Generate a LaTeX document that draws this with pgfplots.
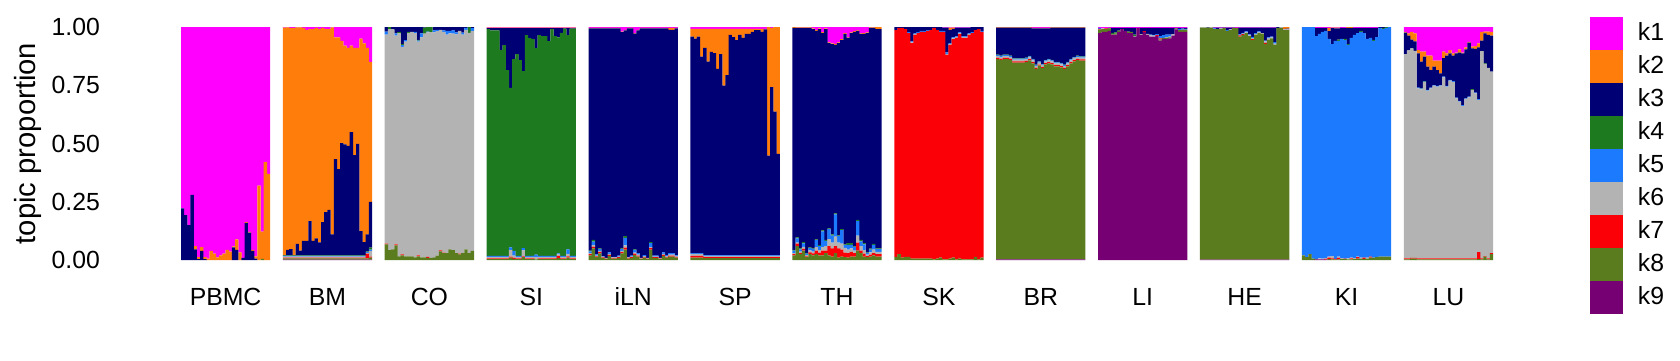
\documentclass[border=0pt]{standalone}
\usepackage{fontspec}
\setmainfont{Liberation Sans}
\usepackage{pgfplots}
\usepackage{pgfplotstable}
\pgfplotsset{compat=1.18}
\definecolor{c1}{RGB}{255,0,255}
\definecolor{c2}{RGB}{255,125,10}
\definecolor{c3}{RGB}{0,0,117}
\definecolor{c4}{RGB}{30,122,30}
\definecolor{c5}{RGB}{28,122,255}
\definecolor{c6}{RGB}{179,179,179}
\definecolor{c7}{RGB}{252,0,8}
\definecolor{c8}{RGB}{91,124,30}
\definecolor{c9}{RGB}{118,0,115}
\pgfplotsset{sq/.style={fill=#1, draw=none,
  legend image code/.code={\fill[#1] (0pt,-8.25pt) rectangle (16.5pt,8.25pt); \path (24pt,0pt);}}}

\pgfplotstableread{
x k1 k2 k3 k4 k5 k6 k7 k8 k9
0 0.778 0 0.222 0 0 0 0 0 0
1 0.807 0 0.193 0 0 0 0 0 0
2 0.850 0 0.150 0 0 0 0 0 0
3 0.721 0 0.279 0 0 0 0 0 0
4 0.940 0.014 0.046 0 0 0 0 0 0
5 0.988 0.008 0.004 0 0 0 0 0 0
6 0.945 0.016 0.039 0 0 0 0 0 0
7 0.988 0.008 0.004 0 0 0 0 0 0
8 0.994 0.006 0 0 0 0 0 0 0
9 0.961 0.039 0 0 0 0 0 0 0
10 0.973 0.027 0 0 0 0 0 0 0
11 0.989 0.011 0 0 0 0 0 0 0
12 0.980 0.020 0 0 0 0 0 0 0
13 0.973 0.027 0 0 0 0 0 0 0
14 0.957 0.043 0 0 0 0 0 0 0
15 0.964 0.036 0 0 0 0 0 0 0
16 0.942 0.004 0.054 0 0 0 0 0 0
17 0.911 0.045 0.044 0 0 0 0 0 0
18 0.967 0.033 0 0 0 0 0 0 0
19 0.991 0 0.009 0 0 0 0 0 0
20 0.837 0.004 0.159 0 0 0 0 0 0
21 0.879 0.004 0.117 0 0 0 0 0 0
22 0.957 0.004 0.039 0 0 0 0 0 0
23 0.984 0.010 0.006 0 0 0 0 0 0
24 0.681 0.319 0 0 0 0 0 0 0
25 0.878 0.117 0 0 0 0 0 0.005 0
26 0.580 0.420 0 0 0 0 0 0 0
27 0.630 0.370 0 0 0 0 0 0 0
32 0.003 0.976 0.001 0.002 0.004 0.004 0.003 0.005 0.002
33 0.002 0.955 0.023 0.002 0.004 0.004 0.003 0.005 0.002
34 0.004 0.949 0.027 0.002 0.004 0.004 0.003 0.005 0.002
35 0.004 0.975 0.001 0.002 0.004 0.004 0.003 0.005 0.002
36 0.002 0.929 0.049 0.002 0.004 0.004 0.003 0.005 0.002
37 0.002 0.958 0.020 0.002 0.004 0.004 0.003 0.005 0.002
38 0.004 0.914 0.062 0.002 0.004 0.004 0.003 0.005 0.002
39 0.013 0.905 0.062 0.002 0.004 0.004 0.003 0.005 0.002
40 0.009 0.824 0.147 0.002 0.004 0.004 0.003 0.005 0.002
41 0.009 0.909 0.062 0.002 0.004 0.004 0.003 0.005 0.002
42 0.004 0.903 0.073 0.002 0.004 0.004 0.003 0.005 0.002
43 0.009 0.915 0.056 0.002 0.004 0.004 0.003 0.005 0.002
44 0.004 0.833 0.143 0.002 0.004 0.004 0.003 0.005 0.002
45 0.009 0.785 0.186 0.002 0.004 0.004 0.003 0.005 0.002
46 0.009 0.776 0.195 0.002 0.004 0.004 0.003 0.005 0.002
47 0.002 0.888 0.090 0.002 0.004 0.004 0.003 0.005 0.002
48 0.045 0.522 0.413 0.002 0.004 0.004 0.003 0.005 0.002
49 0.045 0.565 0.370 0.002 0.004 0.004 0.003 0.005 0.002
50 0.060 0.438 0.482 0.002 0.004 0.004 0.003 0.005 0.002
51 0.080 0.424 0.476 0.002 0.004 0.004 0.003 0.005 0.002
52 0.090 0.420 0.470 0.002 0.004 0.004 0.003 0.005 0.002
53 0.080 0.371 0.529 0.002 0.004 0.004 0.003 0.005 0.002
54 0.090 0.460 0.430 0.002 0.004 0.004 0.003 0.005 0.002
55 0.090 0.412 0.478 0.002 0.004 0.004 0.003 0.005 0.002
56 0.050 0.826 0.104 0.002 0.004 0.004 0.003 0.005 0.002
57 0.070 0.853 0.057 0.002 0.004 0.004 0.003 0.005 0.002
58 0.090 0.800 0.073 0.002 0.004 0.004 0.020 0.005 0.002
59 0.150 0.601 0.196 0.008 0.006 0.025 0.004 0.008 0.002
64 0 0 0.020 0 0.013 0.897 0.003 0.067 0
65 0 0 0 0.010 0 0.948 0 0.042 0
66 0 0 0.010 0 0 0.944 0 0.046 0
67 0 0 0.027 0 0.010 0.896 0.004 0.063 0
68 0 0 0.022 0.005 0 0.957 0 0.016 0
69 0 0 0.074 0.004 0.007 0.891 0.004 0.020 0
70 0 0 0.056 0 0.007 0.921 0 0.016 0
71 0 0 0.021 0.004 0 0.959 0 0.016 0
72 0 0 0.021 0 0 0.963 0 0.016 0
73 0 0 0.021 0 0.005 0.963 0 0.011 0
74 0 0 0.055 0.004 0.004 0.917 0.004 0.016 0
75 0 0 0.027 0 0.017 0.945 0 0.011 0
76 0 0 0.003 0.025 0 0.961 0 0.011 0
77 0 0 0 0.020 0.003 0.964 0.004 0.009 0
78 0 0 0 0.022 0 0.969 0 0.009 0
79 0 0 0.015 0 0.008 0.966 0 0.011 0
80 0 0 0.012 0 0.006 0.963 0 0.019 0
81 0 0 0.012 0 0 0.947 0.004 0.037 0
82 0 0 0.015 0 0.006 0.947 0.003 0.029 0
83 0 0 0.017 0 0.016 0.938 0 0.029 0
84 0 0 0.017 0 0.010 0.927 0 0.046 0
85 0 0 0.015 0 0.013 0.930 0 0.042 0
86 0 0 0.023 0 0.009 0.939 0 0.029 0
87 0 0 0.017 0 0 0.956 0.003 0.024 0
88 0 0 0.024 0 0.009 0.938 0 0.029 0
89 0 0 0.004 0 0.008 0.942 0 0.046 0
90 0 0 0 0.025 0 0.946 0 0.029 0
91 0 0 0.005 0 0.012 0.944 0 0.039 0
96 0.003 0.002 0.004 0.973 0.005 0.006 0.003 0.004 0
97 0.003 0.002 0.009 0.968 0.005 0.006 0.003 0.004 0
98 0.003 0.002 0.009 0.968 0.005 0.006 0.003 0.004 0
99 0.003 0.002 0.009 0.968 0.005 0.006 0.003 0.004 0
100 0.003 0.002 0.094 0.883 0.005 0.006 0.003 0.004 0
101 0.003 0.002 0.073 0.904 0.005 0.006 0.003 0.004 0
102 0.003 0.002 0.180 0.797 0.005 0.006 0.003 0.004 0
103 0.003 0.002 0.256 0.685 0.010 0.030 0.004 0.010 0
104 0.003 0.002 0.133 0.823 0.020 0.010 0.004 0.005 0
105 0.003 0.002 0.111 0.866 0.005 0.006 0.003 0.004 0
106 0.003 0.002 0.137 0.840 0.005 0.006 0.003 0.004 0
107 0.003 0.002 0.184 0.760 0.010 0.025 0.004 0.012 0
108 0.003 0.002 0.030 0.947 0.005 0.006 0.003 0.004 0
109 0.003 0.002 0.043 0.934 0.005 0.006 0.003 0.004 0
110 0.003 0.002 0.047 0.930 0.005 0.006 0.003 0.004 0
111 0.003 0.002 0.086 0.886 0.010 0.010 0 0.003 0
112 0.003 0.002 0.030 0.947 0.005 0.006 0.003 0.004 0
113 0.003 0.002 0.034 0.943 0.005 0.006 0.003 0.004 0
114 0.003 0.002 0.034 0.943 0.005 0.006 0.003 0.004 0
115 0.003 0.002 0.056 0.921 0.005 0.006 0.003 0.004 0
116 0.003 0.002 0.004 0.973 0.005 0.006 0.003 0.004 0
117 0.003 0.002 0.034 0.943 0.005 0.006 0.003 0.004 0
118 0.003 0.002 0.039 0.928 0.004 0.006 0.010 0.008 0
119 0.003 0.002 0.020 0.957 0.005 0.006 0.003 0.004 0
120 0.003 0.002 0.002 0.975 0.005 0.006 0.003 0.004 0
121 0.003 0.002 0.030 0.919 0.020 0.010 0.006 0.010 0
122 0.003 0.002 0.002 0.975 0.005 0.006 0.003 0.004 0
123 0.003 0.002 0.002 0.975 0.005 0.006 0.003 0.004 0
128 0.004 0.002 0.954 0.003 0.008 0.004 0.005 0.020 0
129 0.004 0.002 0.908 0.007 0.015 0.008 0.006 0.050 0
130 0.004 0.002 0.970 0 0.005 0.003 0.004 0.012 0
131 0.004 0.002 0.944 0.003 0.008 0.005 0.006 0.028 0
132 0.004 0.002 0.977 0 0.003 0.003 0.003 0.008 0
133 0.004 0.002 0.985 0 0 0.003 0.002 0.004 0
134 0.004 0.002 0.961 0 0.007 0.004 0.004 0.018 0
135 0.004 0.002 0.981 0 0.002 0.002 0.003 0.006 0
136 0.004 0.002 0.981 0 0.002 0.002 0.003 0.006 0
137 0.004 0.002 0.975 0 0.004 0.003 0.003 0.009 0
138 0.020 0.002 0.928 0.003 0.008 0.005 0.006 0.028 0
139 0.012 0.002 0.883 0.008 0.032 0.010 0.008 0.045 0
140 0.004 0.002 0.981 0 0.002 0.002 0.003 0.006 0
141 0.004 0.002 0.975 0 0.004 0.003 0.003 0.009 0
142 0.026 0.002 0.926 0.003 0.011 0.005 0.005 0.022 0
143 0.012 0.002 0.957 0 0.006 0.004 0.004 0.015 0
144 0.004 0.002 0.985 0 0 0.003 0.002 0.004 0
145 0.004 0.002 0.973 0 0.005 0.003 0.003 0.010 0
146 0.004 0.002 0.985 0 0 0.003 0.002 0.004 0
147 0.004 0.002 0.917 0.005 0.017 0.004 0.006 0.045 0
148 0.004 0.002 0.975 0 0.004 0.003 0.003 0.009 0
149 0.004 0.002 0.975 0 0.004 0.003 0.003 0.009 0
150 0.004 0.002 0.985 0 0 0.003 0.002 0.004 0
151 0.004 0.002 0.961 0 0.007 0.004 0.004 0.018 0
152 0.004 0.002 0.973 0 0.005 0.003 0.003 0.010 0
153 0.004 0.008 0.959 0 0.006 0.004 0.004 0.015 0
154 0.004 0.008 0.959 0 0.006 0.004 0.004 0.015 0
155 0.004 0.002 0.974 0 0.004 0.003 0.003 0.010 0
160 0.008 0.033 0.929 0 0.004 0.008 0.008 0.010 0
161 0.008 0.042 0.920 0 0.004 0.008 0.008 0.010 0
162 0.008 0.033 0.929 0 0.004 0.008 0.008 0.010 0
163 0.008 0.119 0.843 0 0.004 0.008 0.008 0.010 0
164 0.008 0.082 0.890 0 0.003 0.005 0.004 0.008 0
165 0.008 0.141 0.831 0 0.003 0.005 0.004 0.008 0
166 0.008 0.099 0.873 0 0.003 0.005 0.004 0.008 0
167 0.008 0.104 0.868 0 0.003 0.005 0.004 0.008 0
168 0.008 0.172 0.800 0 0.003 0.005 0.004 0.008 0
169 0.008 0.108 0.864 0 0.003 0.005 0.004 0.008 0
170 0.008 0.244 0.728 0 0.003 0.005 0.004 0.008 0
171 0.008 0.199 0.773 0 0.003 0.005 0.004 0.008 0
172 0.008 0.026 0.946 0 0.003 0.005 0.004 0.008 0
173 0.008 0.035 0.937 0 0.003 0.005 0.004 0.008 0
174 0.008 0.048 0.924 0 0.003 0.005 0.004 0.008 0
175 0.008 0.026 0.946 0 0.003 0.005 0.004 0.008 0
176 0.008 0.039 0.933 0 0.003 0.005 0.004 0.008 0
177 0.008 0.022 0.950 0 0.003 0.005 0.004 0.008 0
178 0.008 0.022 0.950 0 0.003 0.005 0.004 0.008 0
179 0.008 0.013 0.959 0 0.003 0.005 0.004 0.008 0
180 0.008 0.005 0.967 0 0.003 0.005 0.004 0.008 0
181 0.008 0.005 0.967 0 0.003 0.005 0.004 0.008 0
182 0.008 0.013 0.959 0 0.003 0.005 0.004 0.008 0
183 0.008 0.002 0.970 0 0.003 0.005 0.004 0.008 0
184 0 0.552 0.428 0 0.003 0.005 0.004 0.008 0
185 0.004 0.254 0.722 0 0.003 0.005 0.004 0.008 0
186 0 0.363 0.617 0 0.003 0.005 0.004 0.008 0
187 0 0.545 0.435 0 0.003 0.005 0.004 0.008 0
192 0 0.004 0.953 0.003 0.010 0.005 0.005 0.020 0
193 0.002 0.002 0.899 0.004 0.018 0.005 0.010 0.060 0
194 0.002 0.002 0.946 0.004 0.010 0.006 0.005 0.025 0
195 0.002 0.002 0.919 0.006 0.015 0.008 0.008 0.040 0
196 0.002 0.002 0.967 0.002 0.006 0.005 0.004 0.012 0
197 0.002 0.002 0.942 0.003 0.010 0.008 0.008 0.025 0
198 0.006 0.003 0.941 0.002 0.012 0.008 0.008 0.020 0
199 0.013 0.004 0.894 0.004 0.030 0.015 0.015 0.025 0
200 0.006 0.003 0.927 0.004 0.018 0.010 0.012 0.020 0
201 0.022 0.004 0.847 0.004 0.068 0.015 0.020 0.020 0
202 0.006 0.003 0.905 0.004 0.022 0.020 0.010 0.030 0
203 0.066 0.003 0.795 0.004 0.042 0.030 0.040 0.020 0
204 0.070 0.003 0.817 0.005 0.030 0.025 0.035 0.015 0
205 0.072 0.005 0.723 0.004 0.096 0.040 0.030 0.030 0
206 0.066 0.003 0.825 0.004 0.027 0.025 0.040 0.010 0
207 0.052 0.004 0.812 0.004 0.058 0.025 0.030 0.015 0
208 0.026 0.004 0.903 0.003 0.012 0.020 0.020 0.012 0
209 0.044 0.003 0.881 0.007 0.020 0.015 0.020 0.010 0
210 0.023 0.003 0.902 0.007 0.015 0.015 0.020 0.015 0
211 0.018 0.003 0.921 0.003 0.015 0.010 0.015 0.015 0
212 0.014 0.003 0.811 0.005 0.062 0.030 0.035 0.040 0
213 0.027 0.003 0.884 0.006 0.020 0.020 0.010 0.030 0
214 0.026 0.003 0.899 0.005 0.025 0.015 0.012 0.015 0
215 0.023 0.003 0.941 0.002 0.008 0.006 0.005 0.012 0
216 0.002 0.002 0.947 0.004 0.012 0.010 0.008 0.015 0
217 0.002 0.002 0.927 0.004 0.020 0.015 0.010 0.020 0
218 0 0.009 0.941 0.003 0.012 0.010 0.010 0.015 0
219 0 0.009 0.941 0.003 0.012 0.010 0.010 0.015 0
224 0 0 0.013 0 0 0 0.974 0.013 0
225 0 0 0.004 0 0 0 0.971 0.025 0
226 0 0 0.004 0 0 0 0.986 0.010 0
227 0 0 0.009 0 0 0 0.978 0.013 0
228 0 0 0.022 0 0.004 0 0.961 0.013 0
229 0 0 0.062 0 0.004 0.003 0.925 0.006 0
230 0 0 0.027 0 0.004 0.003 0.960 0.006 0
231 0 0 0.022 0 0.004 0 0.968 0.006 0
232 0 0 0.017 0 0.004 0 0.973 0.006 0
233 0 0 0.017 0 0.004 0 0.973 0.006 0
234 0 0 0.013 0 0.004 0 0.977 0.006 0
235 0 0 0.013 0 0 0 0.981 0.006 0
236 0 0 0.004 0 0 0 0.993 0.003 0
237 0 0 0.013 0 0 0 0.981 0.006 0
238 0 0 0.017 0 0.004 0 0.969 0.010 0
239 0.003 0 0.014 0 0.004 0 0.976 0.003 0
240 0.003 0 0.106 0 0.006 0.005 0.877 0.003 0
241 0.003 0.010 0.057 0 0.004 0.003 0.917 0.006 0
242 0.003 0.005 0.037 0 0.004 0.003 0.938 0.010 0
243 0.003 0 0.037 0 0.004 0.003 0.950 0.003 0
244 0.003 0 0.020 0 0.004 0.003 0.964 0.006 0
245 0.003 0 0.037 0 0.004 0.003 0.950 0.003 0
246 0.003 0 0.037 0 0.004 0.003 0.950 0.003 0
247 0.003 0 0.024 0 0.004 0.003 0.963 0.003 0
248 0 0 0.022 0 0.004 0 0.971 0.003 0
249 0 0 0.013 0 0 0 0.974 0.013 0
250 0 0 0.009 0 0 0 0.988 0.003 0
251 0 0 0.017 0 0.004 0 0.969 0.010 0
256 0.001 0.002 0.116 0.002 0.004 0.008 0.005 0.859 0.003
257 0.001 0.002 0.120 0.002 0.004 0.008 0.005 0.855 0.003
258 0.001 0.002 0.116 0.002 0.004 0.008 0.005 0.859 0.003
259 0.001 0.002 0.116 0.002 0.004 0.008 0.005 0.859 0.003
260 0.001 0.002 0.120 0.002 0.004 0.008 0.005 0.855 0.003
261 0.001 0.002 0.131 0.002 0.004 0.008 0.005 0.844 0.003
262 0.001 0.002 0.131 0.002 0.004 0.008 0.005 0.844 0.003
263 0.001 0.002 0.131 0.002 0.004 0.008 0.005 0.844 0.003
264 0.001 0.002 0.131 0.002 0.004 0.008 0.005 0.844 0.003
265 0.001 0.002 0.128 0.002 0.004 0.008 0.005 0.847 0.003
266 0.001 0.002 0.121 0.002 0.004 0.008 0.005 0.854 0.003
267 0.004 0.002 0.131 0.002 0.004 0.008 0.005 0.841 0.003
268 0.004 0.002 0.155 0.002 0.004 0.008 0.005 0.817 0.003
269 0.004 0.002 0.141 0.002 0.004 0.008 0.005 0.831 0.003
270 0.004 0.002 0.152 0.002 0.004 0.008 0.005 0.820 0.003
271 0.004 0.002 0.135 0.002 0.004 0.008 0.005 0.837 0.003
272 0.004 0.002 0.131 0.002 0.004 0.008 0.005 0.841 0.003
273 0.001 0.002 0.138 0.002 0.004 0.008 0.005 0.837 0.003
274 0.001 0.002 0.147 0.002 0.004 0.008 0.005 0.828 0.003
275 0.001 0.002 0.147 0.002 0.004 0.008 0.005 0.828 0.003
276 0.001 0.002 0.151 0.002 0.004 0.008 0.005 0.824 0.003
277 0.001 0.002 0.158 0.002 0.004 0.008 0.005 0.817 0.003
278 0.001 0.002 0.147 0.002 0.004 0.008 0.005 0.828 0.003
279 0.001 0.002 0.134 0.002 0.004 0.008 0.005 0.841 0.003
280 0.001 0.002 0.125 0.002 0.004 0.008 0.005 0.850 0.003
281 0.001 0.002 0.120 0.002 0.004 0.008 0.005 0.855 0.003
282 0.001 0.002 0.122 0.002 0.004 0.008 0.005 0.853 0.003
283 0.001 0.002 0.122 0.002 0.004 0.008 0.005 0.853 0.003
288 0.004 0 0 0 0.004 0 0.003 0.015 0.974
289 0.006 0 0 0 0 0.003 0 0.012 0.979
290 0.006 0 0 0 0 0 0.002 0.013 0.979
291 0.004 0 0 0.003 0 0 0 0.010 0.983
292 0.004 0 0.021 0.004 0 0 0 0.004 0.967
293 0.004 0 0.019 0.005 0 0 0 0.005 0.967
294 0.004 0 0.012 0 0 0 0 0.005 0.979
295 0.004 0 0.005 0 0 0 0 0 0.991
296 0.004 0 0.013 0 0 0 0 0 0.983
297 0.004 0 0.016 0 0 0 0 0.006 0.974
298 0.004 0 0.017 0 0 0 0 0.005 0.974
299 0.004 0 0.029 0.006 0 0.002 0 0 0.959
300 0.004 0 0 0 0 0 0 0 0.996
301 0.004 0 0.027 0 0 0.003 0 0 0.966
302 0.004 0 0.014 0 0 0 0.003 0 0.979
303 0.004 0 0.026 0 0 0.004 0 0 0.966
304 0.004 0 0.029 0 0.003 0.005 0 0 0.959
305 0.004 0 0.030 0 0.003 0.004 0 0 0.959
306 0.004 0 0.027 0 0.004 0 0.004 0 0.961
307 0.004 0 0.035 0 0.010 0 0.004 0.006 0.941
308 0.004 0 0.031 0 0.012 0 0 0.004 0.949
309 0.004 0 0.029 0 0.010 0.004 0 0.004 0.949
310 0.004 0 0.029 0 0.008 0.004 0 0.004 0.951
311 0.004 0 0.028 0 0 0.005 0 0 0.963
312 0.004 0 0.002 0 0 0 0 0.004 0.990
313 0.004 0 0.004 0 0.005 0 0 0.008 0.979
314 0.004 0 0.003 0 0.004 0 0 0.010 0.979
315 0.004 0 0.004 0 0.003 0 0 0.010 0.979
320 0 0 0 0 0 0.003 0 0.995 0.002
321 0 0 0 0 0 0.003 0 0.995 0.002
322 0 0 0.003 0 0 0 0 0.995 0.002
323 0 0 0 0 0 0.003 0 0.995 0.002
324 0.003 0 0.003 0 0.003 0 0 0.989 0.002
325 0.003 0 0.006 0 0 0 0 0.989 0.002
326 0.003 0 0.003 0 0 0.003 0 0.989 0.002
327 0.003 0 0.001 0 0 0 0 0.994 0.002
328 0.003 0 0.010 0 0.004 0 0 0.981 0.002
329 0.003 0 0.007 0 0 0.003 0 0.985 0.002
330 0.003 0 0.001 0 0 0 0 0.994 0.002
331 0.004 0 0 0 0 0 0 0.994 0.002
332 0.003 0 0.029 0 0.004 0 0.005 0.957 0.002
333 0.003 0 0.022 0 0.003 0.003 0.003 0.964 0.002
334 0.003 0 0.016 0 0.004 0.003 0 0.972 0.002
335 0.003 0 0.029 0 0.004 0.003 0 0.959 0.002
336 0.003 0 0.039 0 0.006 0.004 0.004 0.942 0.002
337 0.003 0 0.023 0 0.003 0.005 0 0.964 0.002
338 0.003 0 0.016 0 0.003 0.004 0 0.972 0.002
339 0.003 0 0.023 0 0 0.004 0 0.968 0.002
340 0.003 0 0.055 0 0.004 0.006 0.004 0.926 0.002
341 0.003 0 0.041 0 0.004 0.006 0 0.944 0.002
342 0.003 0 0.038 0 0.004 0.004 0 0.949 0.002
343 0.003 0 0.062 0 0.006 0.006 0 0.921 0.002
344 0 0 0.004 0 0 0 0 0.994 0.002
345 0 0 0 0 0 0.004 0 0.994 0.002
346 0 0.008 0.002 0 0 0.003 0 0.985 0.002
347 0 0.007 0.003 0 0 0.003 0 0.985 0.002
352 0 0 0 0 0.980 0 0 0.020 0
353 0 0 0 0 0.988 0 0 0.012 0
354 0 0 0 0 0.975 0 0 0.025 0
355 0 0 0 0 0.994 0 0 0.006 0
356 0.004 0 0.035 0 0.956 0 0 0.002 0.003
357 0.004 0 0.026 0 0.963 0.004 0 0 0.003
358 0.004 0 0.017 0 0.973 0.003 0 0 0.003
359 0.004 0 0.013 0 0.975 0.003 0.003 0 0.002
360 0.004 0.014 0.033 0 0.934 0.005 0.006 0.004 0
361 0.003 0.002 0.068 0 0.910 0.010 0.004 0.003 0
362 0.003 0.003 0.054 0 0.935 0 0.003 0.002 0
363 0.003 0.003 0.048 0.006 0.925 0.006 0.006 0.003 0
364 0.004 0 0.047 0 0.941 0.004 0 0.004 0
365 0.004 0 0.047 0.005 0.938 0 0.002 0.004 0
366 0 0.004 0.069 0.004 0.916 0.004 0 0.003 0
367 0 0.004 0.043 0 0.943 0.003 0.004 0.003 0
368 0.004 0 0.030 0 0.958 0.004 0 0.004 0
369 0.004 0 0.022 0 0.959 0.003 0.006 0.006 0
370 0.004 0 0.013 0.004 0.969 0.005 0 0.005 0
371 0.004 0 0.022 0 0.964 0 0.005 0.005 0
372 0.004 0 0.047 0 0.939 0.004 0 0.006 0
373 0.004 0 0.043 0 0.938 0 0.005 0.010 0
374 0.004 0 0.051 0.005 0.930 0 0 0.010 0
375 0.004 0 0.039 0 0.945 0 0 0.012 0
376 0 0 0.004 0 0.981 0 0 0.015 0
377 0 0 0.005 0.004 0.976 0 0 0.015 0
378 0 0 0 0.004 0.982 0 0 0.014 0
379 0 0 0 0 0.986 0 0 0.014 0
384 0.021 0.003 0.092 0 0 0.877 0.004 0.003 0
385 0.027 0.010 0.063 0 0 0.893 0.004 0.003 0
386 0.021 0.033 0.038 0 0 0.899 0.003 0.006 0
387 0.027 0.035 0.040 0 0 0.889 0.003 0.006 0
388 0.099 0.014 0.147 0 0.003 0.730 0.004 0.003 0
389 0.106 0.043 0.114 0.002 0.003 0.725 0.004 0.003 0
390 0.106 0.021 0.105 0.002 0.003 0.756 0.004 0.003 0
391 0.123 0.047 0.100 0 0.003 0.720 0.004 0.003 0
392 0.123 0.062 0.075 0 0.003 0.730 0.004 0.003 0
393 0.144 0.026 0.079 0 0.003 0.741 0.004 0.003 0
394 0.144 0.041 0.068 0 0.003 0.737 0.004 0.003 0
395 0.144 0.055 0.050 0 0.003 0.741 0.004 0.003 0
396 0.106 0.028 0.079 0 0.003 0.777 0.004 0.003 0
397 0.113 0.010 0.130 0 0.003 0.737 0.004 0.003 0
398 0.099 0.014 0.114 0 0.003 0.763 0.004 0.003 0
399 0.113 0.010 0.109 0 0.003 0.758 0.004 0.003 0
400 0.110 0.003 0.190 0 0.003 0.687 0.004 0.003 0
401 0.096 0.014 0.207 0 0.003 0.673 0.004 0.003 0
402 0.110 0.003 0.222 0 0.003 0.655 0.004 0.003 0
403 0.087 0.009 0.210 0 0.003 0.684 0.004 0.003 0
404 0.064 0.003 0.232 0 0.003 0.691 0.004 0.003 0
405 0.084 0.008 0.175 0.003 0 0.723 0.004 0.003 0
406 0.082 0.012 0.188 0 0.003 0.708 0.004 0.003 0
407 0.070 0.017 0.223 0 0.003 0.653 0.030 0.004 0
408 0.021 0.038 0.044 0 0 0.890 0.004 0.003 0
409 0.020 0.007 0.129 0.003 0 0.824 0.002 0.015 0
410 0.020 0.014 0.141 0 0 0.818 0.004 0.003 0
411 0.021 0.016 0.155 0 0 0.779 0.004 0.025 0
}\topics

\begin{document}
\begin{tikzpicture}
\useasboundingbox (0,0) rectangle (840pt,180pt);
\begin{axis}[
  at={(90.5pt,50pt)}, anchor=south west,
  scale only axis, width=656pt, height=116.5pt,
  xmin=-0.5, xmax=411.5, ymin=0, ymax=1,
  ybar stacked, bar width=1.04,
  axis line style={draw=none}, major tick length=0pt,
  xtick={13.5,45.5,77.5,109.5,141.5,173.5,205.5,237.5,269.5,301.5,333.5,365.5,397.5},
  xticklabels={PBMC,BM,CO,SI,iLN,SP,TH,SK,BR,LI,HE,KI,LU},
  ytick={0,0.25,0.5,0.75,1},
  yticklabels={0.00,0.25,0.50,0.75,1.00},
  tick label style={font=\fontsize{12.4}{14}\selectfont},
  xticklabel style={anchor=base, yshift=-22.5pt},
  yticklabel style={anchor=east, xshift=-37pt},
  ylabel={topic proportion},
  ylabel style={at={(axis description cs:-0.117,0.5)}, anchor=center, font=\fontsize{14.6}{17}\selectfont},
  legend cell align=left,
  reverse legend,
  legend style={at={(1.0739,1.0429)}, anchor=north west, draw=none, fill=none,
    inner sep=0pt, outer sep=0pt, row sep=0pt, column sep=0pt,
    nodes={inner sep=0pt, font=\fontsize{12.4}{14}\selectfont}},
]
\addplot[sq=c9] table[x=x,y=k9] {\topics}; \addlegendentry{k9}
\addplot[sq=c8] table[x=x,y=k8] {\topics}; \addlegendentry{k8}
\addplot[sq=c7] table[x=x,y=k7] {\topics}; \addlegendentry{k7}
\addplot[sq=c6] table[x=x,y=k6] {\topics}; \addlegendentry{k6}
\addplot[sq=c5] table[x=x,y=k5] {\topics}; \addlegendentry{k5}
\addplot[sq=c4] table[x=x,y=k4] {\topics}; \addlegendentry{k4}
\addplot[sq=c3] table[x=x,y=k3] {\topics}; \addlegendentry{k3}
\addplot[sq=c2] table[x=x,y=k2] {\topics}; \addlegendentry{k2}
\addplot[sq=c1] table[x=x,y=k1] {\topics}; \addlegendentry{k1}
\end{axis}
\end{tikzpicture}
\end{document}
